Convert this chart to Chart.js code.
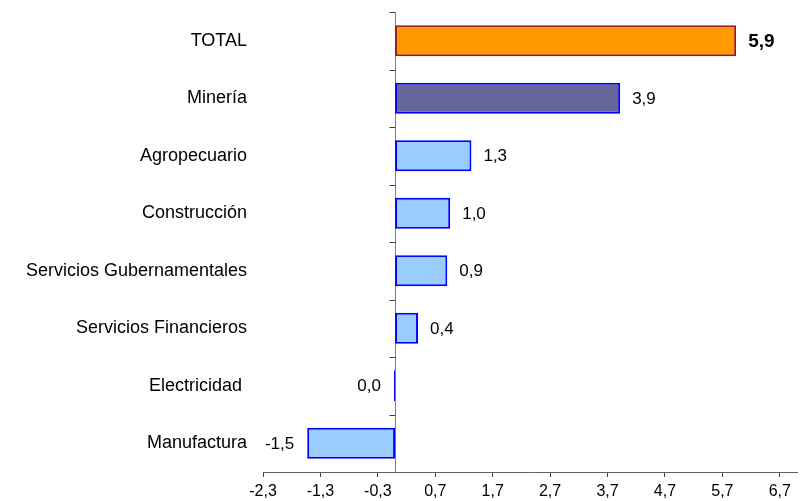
<!DOCTYPE html>
<html>
<head>
<meta charset="utf-8">
<script src="https://cdn.jsdelivr.net/npm/chart.js@4.4.1/dist/chart.umd.min.js"></script>
<style>
  html, body { margin: 0; padding: 0; background: #ffffff; }
  #wrap { width: 806px; height: 501px; }
</style>
</head>
<body>
<div id="wrap"><canvas id="c" width="806" height="501"></canvas></div>
<script>
// ---- data ----
const categories = ['TOTAL', 'Minería', 'Agropecuario', 'Construcción', 'Servicios Gubernamentales', 'Servicios Financieros', 'Electricidad ', 'Manufactura'];
const values = [5.94, 3.92, 1.33, 0.96, 0.91, 0.40, -0.02, -1.53];
const xTickValues = [-2.3, -1.3, -0.3, 0.7, 1.7, 2.7, 3.7, 4.7, 5.7, 6.7];
const xMin = -2.3;
const xMax = 7.0;

const FONT = "'Liberation Sans', Arial, sans-serif";

function fmt(v) {
  const r = Math.round(v * 10) / 10;
  return (r === 0 ? 0 : r).toFixed(1).replace('.', ',');
}

const zeroAxis = {
  id: 'zeroAxis',
  beforeDatasetsDraw(chart) {
    const { ctx, chartArea, scales } = chart;
    const x = scales.x, y = scales.y;
    const px = Math.round(x.getPixelForValue(0)) + 0.5;
    ctx.save();
    ctx.strokeStyle = '#808080';
    ctx.lineWidth = 1;
    ctx.beginPath();
    ctx.moveTo(px, chartArea.top);
    ctx.lineTo(px, chartArea.bottom);
    ctx.stroke();
    ctx.strokeStyle = '#404040';
    ctx.beginPath();
    for (let i = 0; i <= categories.length - 1; i++) {
      const yb = Math.round(y.getPixelForValue(i - 0.5)) + 0.5;
      ctx.moveTo(px - 6, yb);
      ctx.lineTo(px, yb);
    }
    ctx.stroke();
    ctx.restore();
  }
};

const valueLabels = {
  id: 'valueLabels',
  afterDatasetsDraw(chart) {
    const { ctx } = chart;
    const meta = chart.getDatasetMeta(0);
    ctx.save();
    ctx.fillStyle = '#000';
    ctx.textBaseline = 'middle';
    meta.data.forEach((el, i) => {
      const v = values[i];
      ctx.font = i === 0 ? "bold 19px " + FONT : "17px " + FONT;
      const txt = fmt(v);
      if (v > 0) {
        ctx.textAlign = 'left';
        ctx.fillText(txt, Math.max(el.x, el.base) + 12, el.y + 1);
      } else {
        ctx.textAlign = 'right';
        ctx.fillText(txt, Math.min(el.x, el.base) - 13, el.y + 1);
      }
    });
    ctx.restore();
  }
};

new Chart(document.getElementById('c'), {
  type: 'bar',
  data: {
    labels: categories,
    datasets: [{
      data: values,
      backgroundColor: ctx => ctx.dataIndex === 0 ? '#FF9900' : (ctx.dataIndex === 1 ? '#666699' : '#99CCFF'),
      borderColor: ctx => ctx.dataIndex === 0 ? '#991C1C' : '#0000FF',
      borderWidth: 2,
      borderSkipped: false,
      barPercentage: 0.54,
      categoryPercentage: 1.0
    }]
  },
  options: {
    indexAxis: 'y',
    responsive: false,
    animation: false,
    devicePixelRatio: 1,
    layout: { padding: { top: 12, right: 9, left: 0, bottom: 0 } },
    plugins: { legend: { display: false }, tooltip: { enabled: false } },
    scales: {
      x: {
        type: 'linear',
        min: xMin,
        max: xMax,
        afterBuildTicks: s => { s.ticks = xTickValues.map(v => ({ value: v })); },
        afterFit: s => { s.height = 29; s.paddingLeft = 0; s.paddingRight = 0; },
        border: { display: true, color: '#606060', width: 1 },
        grid: { drawOnChartArea: false, drawTicks: true, tickLength: 5, tickColor: '#404040' },
        ticks: {
          autoSkip: false,
          maxRotation: 0,
          padding: 5,
          color: '#000',
          font: { family: FONT, size: 16 },
          callback: v => fmt(v)
        }
      },
      y: {
        type: 'category',
        offset: true,
        afterFit: s => { s.width = 263; s.paddingTop = 0; s.paddingBottom = 0; },
        border: { display: false },
        grid: { display: false, drawTicks: false },
        ticks: {
          padding: 16,
          color: '#000',
          font: { family: FONT, size: 18 }
        }
      }
    }
  },
  plugins: [zeroAxis, valueLabels]
});
</script>
</body>
</html>
